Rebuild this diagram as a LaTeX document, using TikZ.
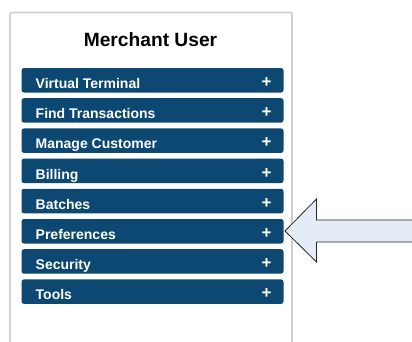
\documentclass[tikz,border=0pt]{standalone}
\usepackage{fontspec}
\setmainfont{Liberation Sans}
\definecolor{menublue}{RGB}{12,72,114}
\definecolor{panelgray}{RGB}{208,208,208}
\definecolor{arrowfill}{RGB}{229,236,247}
\begin{document}
\begin{tikzpicture}[x=1pt,y=-1pt,
  menubtn/.style={fill=menublue, rounded corners=2.5pt},
  menulabel/.style={text=white, font=\bfseries\fontsize{14}{15}\selectfont, anchor=base west, inner sep=0pt},
  pluslabel/.style={text=white, font=\bfseries\fontsize{17}{17}\selectfont, anchor=base, inner sep=0pt}]
\useasboundingbox (0,0) rectangle (412,341);
% panel outline, open at the bottom
\draw[panelgray, line width=1.8pt, rounded corners=2pt] (10,345) -- (10,12.5) -- (292,12.5) -- (292,345);
\node[font=\bfseries\fontsize{19.2}{21}\selectfont, anchor=base] (title) at (150.5,46.8) {Merchant User};
% menu entries
\foreach \i/\lbl in {0/Virtual Terminal,1/Find Transactions,2/Manage Customer,3/Billing,4/Batches,5/Preferences,6/Security,7/Tools}{
  \pgfmathsetmacro{\top}{68+30.2*\i}
  \fill[menubtn] (21.5,\top) rectangle (283.5,\top+24.5);
  \node[menulabel] (item\i) at (35.5,\top+20.5) {\lbl};
  \node[pluslabel] (plus\i) at (266.7,\top+19.5) {+};
}
% pointer arrow
\draw[fill=arrowfill, draw=black!85, line width=0.8pt, line join=miter]
  (285,231) -- (316.5,199) -- (316.5,220) -- (413,220) -- (413,242) -- (316.5,242) -- (316.5,262) -- cycle;
\end{tikzpicture}
\end{document}
